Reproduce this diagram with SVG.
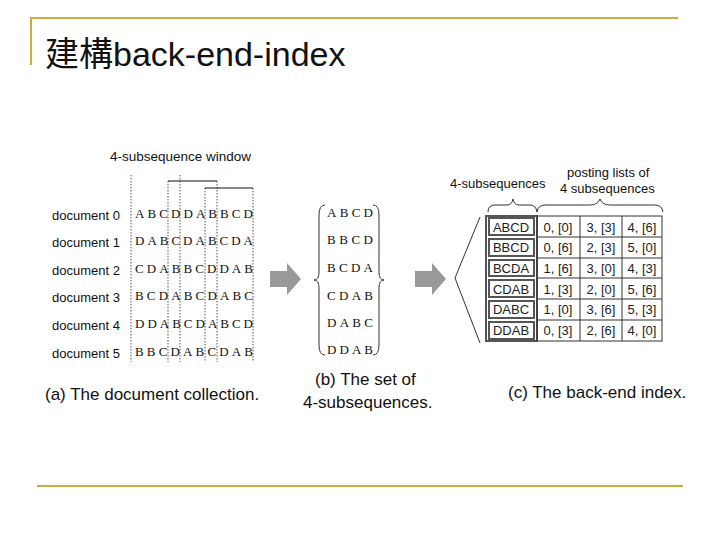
<svg xmlns="http://www.w3.org/2000/svg" width="720" height="540" viewBox="0 0 720 540">
<style>
.t{font-family:"Liberation Sans",Arial,sans-serif;fill:#111}
.s{font-family:"Liberation Serif","Times New Roman",serif;font-size:13px;fill:#111}
.d{stroke:#555;stroke-width:1;stroke-dasharray:1.5,1.5;fill:none}
.c{font-family:"Liberation Sans",Arial,sans-serif;font-size:13px;fill:#222;text-anchor:middle}
</style>
<rect width="720" height="540" fill="#fff"/>
<g id="frame" stroke="#c8b040" stroke-width="2" fill="none">
<polyline points="31,65 31,18 678,18"/>
<line x1="37" y1="486" x2="683" y2="486"/>
</g>
<text id="title" x="45" y="66" class="t" font-size="34" style="font-family:'Liberation Sans','Noto Sans CJK TC',sans-serif">建構back-end-index</text>
<g id="collection">
<text x="110" y="161" class="t" font-size="13.5">4-subsequence window</text>
<g class="d"><line x1="131" y1="175" x2="131" y2="362"/><line x1="168" y1="181" x2="168" y2="362"/><line x1="180" y1="175" x2="180" y2="362"/><line x1="205" y1="188" x2="205" y2="362"/><line x1="217" y1="181" x2="217" y2="362"/><line x1="253" y1="188" x2="253" y2="362"/></g>
<g stroke="#111" stroke-width="1.2"><line x1="168" y1="181" x2="217" y2="181"/><line x1="205" y1="188" x2="253" y2="188"/></g>
<g class="t" font-size="13"><text x="52" y="220">document 0</text><text x="52" y="247">document 1</text><text x="52" y="275">document 2</text><text x="52" y="302">document 3</text><text x="52" y="330">document 4</text><text x="52" y="358">document 5</text></g>
<g class="s"><text x="135" y="218" textLength="118" lengthAdjust="spacing">ABCDDABBCD</text><text x="135" y="245" textLength="118" lengthAdjust="spacing">DABCDABCDA</text><text x="135" y="273" textLength="118" lengthAdjust="spacing">CDABBCDDAB</text><text x="135" y="300" textLength="118" lengthAdjust="spacing">BCDABCDABC</text><text x="135" y="328" textLength="118" lengthAdjust="spacing">DDABCDABCD</text><text x="135" y="356" textLength="118" lengthAdjust="spacing">BBCDABCDAB</text></g>
<text x="45" y="400" class="t" font-size="17">(a) The document collection.</text>
</g>
<g id="connectors" fill="#999">
<polygon points="270,271 287,271 287,263 301,279 287,295 287,287 270,287"/>
<polygon points="415,271 432,271 432,263 446,279 432,295 432,287 415,287"/>
</g>
<g id="subsequences">
<path d="M325,205 Q319,205 319,215 L319,272 Q319,280 314,280 Q319,280 319,288 L319,345 Q319,355 325,355" fill="none" stroke="#333"/>
<path d="M373,205 Q379,205 379,215 L379,272 Q379,280 384,280 Q379,280 379,288 L379,345 Q379,355 373,355" fill="none" stroke="#333"/>
<g class="s"><text x="327" y="217" textLength="46" lengthAdjust="spacing">ABCD</text><text x="327" y="244" textLength="46" lengthAdjust="spacing">BBCD</text><text x="327" y="272" textLength="46" lengthAdjust="spacing">BCDA</text><text x="327" y="300" textLength="46" lengthAdjust="spacing">CDAB</text><text x="327" y="327" textLength="46" lengthAdjust="spacing">DABC</text><text x="327" y="354" textLength="46" lengthAdjust="spacing">DDAB</text></g>
<text x="315" y="385" class="t" font-size="17">(b) The set of</text>
<text x="303" y="408" class="t" font-size="17">4-subsequences.</text>
</g>
<g id="index">
<text x="450" y="188" class="t" font-size="13">4-subsequences</text>
<text x="567" y="177" class="t" font-size="13">posting lists of</text>
<text x="560" y="193" class="t" font-size="13">4 subsequences</text>
<path d="M488,212 Q488,205 495,205 L507,205 Q512,205 513,199 Q514,205 519,205 L530,205 Q536,205 537,212" fill="none" stroke="#333"/>
<path d="M537,212 Q538,205 545,205 L590,205 Q598,205 600,199 Q602,205 610,205 L655,205 Q662,205 663,212" fill="none" stroke="#333"/>
<polyline points="480,217 455,278 480,343" fill="none" stroke="#333"/>
<rect x="486" y="216" width="51" height="125" fill="#fff" stroke="#555" stroke-width="2"/>
<g stroke="#333" fill="none"><rect x="537" y="216" width="125" height="125"/><line x1="580" y1="216" x2="580" y2="341"/><line x1="622" y1="216" x2="622" y2="341"/>
<line x1="537" y1="237" x2="662" y2="237"/><line x1="537" y1="258" x2="662" y2="258"/><line x1="537" y1="278" x2="662" y2="278"/><line x1="537" y1="299" x2="662" y2="299"/><line x1="537" y1="320" x2="662" y2="320"/></g>
<g stroke="#555" stroke-width="2" fill="#fff"><rect x="489" y="218" width="45" height="17"/><rect x="489" y="239" width="45" height="17"/><rect x="489" y="260" width="45" height="16"/><rect x="489" y="280" width="45" height="17"/><rect x="489" y="301" width="45" height="17"/><rect x="489" y="322" width="45" height="17"/></g>
<g class="c"><text x="511" y="232">ABCD</text><text x="511" y="252">BBCD</text><text x="511" y="273">BCDA</text><text x="511" y="294">CDAB</text><text x="511" y="314">DABC</text><text x="511" y="335">DDAB</text>
<text x="558" y="232">0, [0]</text><text x="601" y="232">3, [3]</text><text x="642" y="232">4, [6]</text>
<text x="558" y="252">0, [6]</text><text x="601" y="252">2, [3]</text><text x="642" y="252">5, [0]</text>
<text x="558" y="273">1, [6]</text><text x="601" y="273">3, [0]</text><text x="642" y="273">4, [3]</text>
<text x="558" y="294">1, [3]</text><text x="601" y="294">2, [0]</text><text x="642" y="294">5, [6]</text>
<text x="558" y="314">1, [0]</text><text x="601" y="314">3, [6]</text><text x="642" y="314">5, [3]</text>
<text x="558" y="335">0, [3]</text><text x="601" y="335">2, [6]</text><text x="642" y="335">4, [0]</text></g>
<text x="508" y="398" class="t" font-size="17">(c) The back-end index.</text>
</g>
</svg>
